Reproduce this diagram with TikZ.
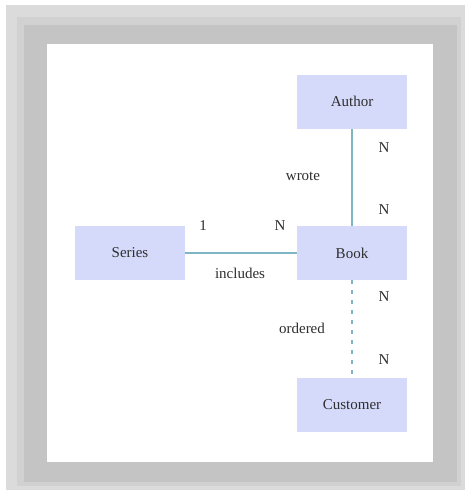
\documentclass[tikz,border=0pt]{standalone}
\usepackage{fontspec}
\setmainfont{Liberation Serif}
\begin{document}
\begin{tikzpicture}[x=1pt,y=-1pt,
  entity/.style={fill=boxfill,draw=none,minimum width=110pt,minimum height=54pt,inner sep=0pt,text=textcol,font=\fontsize{15}{18}\selectfont},
  lbl/.style={text=textcol,inner sep=0pt,font=\fontsize{15}{18}\selectfont},
  rel/.style={draw=linecol,line width=2pt},
  reldash/.style={draw=linecol,line width=2pt,dash pattern=on 4pt off 6pt}]
\definecolor{boxfill}{HTML}{D5DAFB}
\definecolor{linecol}{HTML}{7FB6C6}
\definecolor{textcol}{HTML}{2E2E2E}
\definecolor{frameA}{HTML}{DBDBDB}
\definecolor{frameB}{HTML}{D1D1D1}
\definecolor{frameC}{HTML}{C4C4C4}
\useasboundingbox (0,0) rectangle (472,499);
\fill[white] (0,0) rectangle (472,499);
\fill[frameA] (6,5) rectangle (465,490);
\fill[frameB] (17,17) rectangle (461,486);
\fill[frameC] (24,25) rectangle (457,482);
\fill[white] (47,44) rectangle (433,462);
\node[entity] (author) at (352,101.5) {Author};
\node[entity] (book) at (352,253) {Book};
\node[entity] (series) at (130,253) {Series};
\node[entity] (customer) at (352,404.5) {Customer};
\draw[rel] (author) -- (book);
\draw[rel] (series) -- (book);
\draw[reldash] (book) -- (customer);
\node[lbl] (wrote) at (303,176) {wrote};
\node[lbl] (n1) at (384,148) {N};
\node[lbl] (n2) at (384,210) {N};
\node[lbl] (one) at (203,226) {1};
\node[lbl] (n3) at (280,226) {N};
\node[lbl] (includes) at (240,273) {includes};
\node[lbl] (n4) at (384,297) {N};
\node[lbl] (ordered) at (302,328) {ordered};
\node[lbl] (n5) at (384,360) {N};
\end{tikzpicture}
\end{document}
